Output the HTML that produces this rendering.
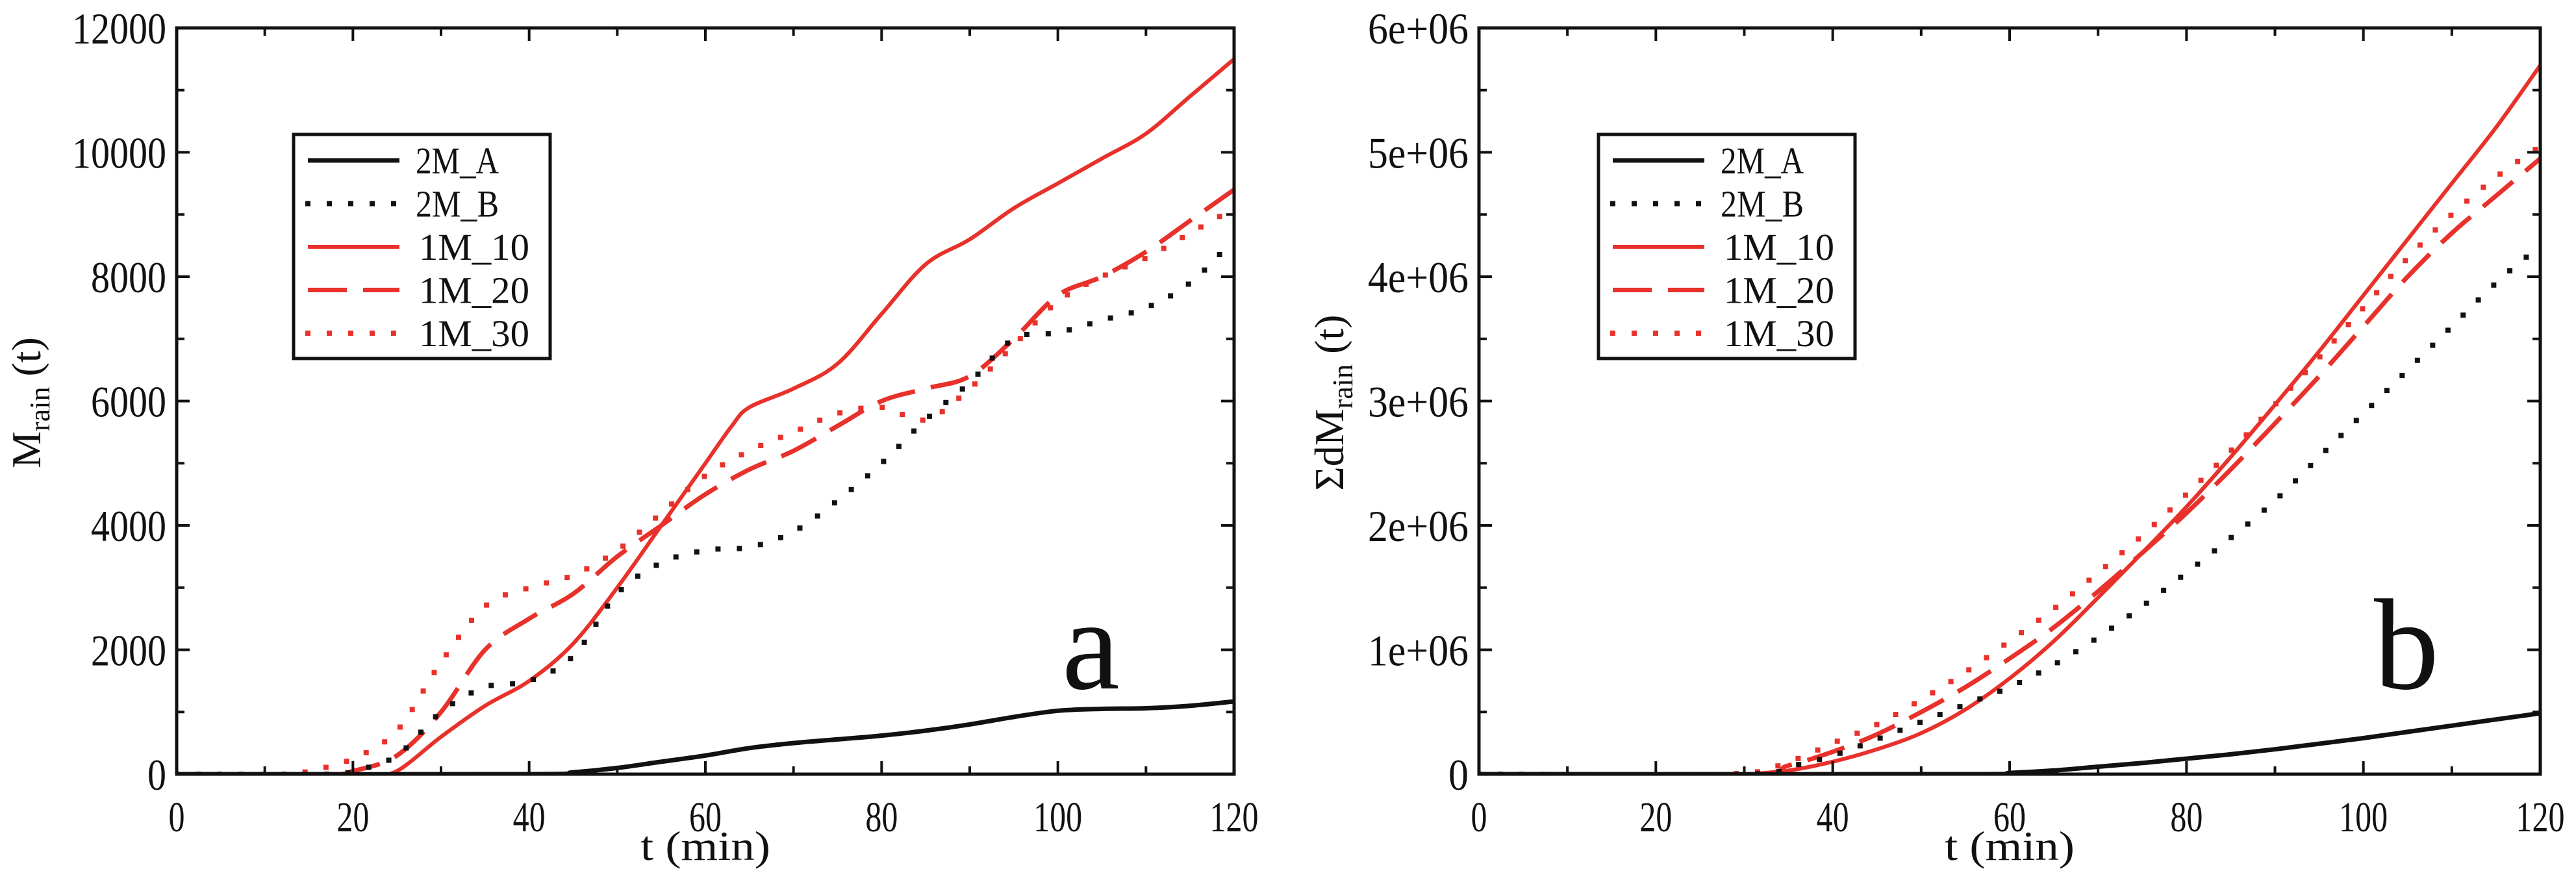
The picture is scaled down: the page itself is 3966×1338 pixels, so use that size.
<!DOCTYPE html>
<html><head><meta charset="utf-8"><style>
html,body{margin:0;padding:0;background:#fff;}
svg{display:block;}
text{font-family:"Liberation Serif",serif;fill:#111;}
</style></head><body>
<svg id="fig" width="3966" height="1338" viewBox="0 0 3966 1338" xmlns="http://www.w3.org/2000/svg"></svg>
<script>
const tA=[0,40,45,50,55,60,65,70,75,80,85,90,95,100,105,110,115,120];
const a2MA=[0,0,30,100,200,300,420,500,560,620,700,800,920,1020,1050,1060,1100,1170];
const tB=[0,17,20,25,30,35,40,45,50,55,60,65,70,75,80,85,90,95,100,105,110,115,120];
const a2MB=[0,0,50,300,1000,1400,1500,1900,2900,3400,3600,3650,3900,4400,5000,5700,6300,7000,7100,7300,7500,7900,8600];
const tC=[0,20,22,25,30,35,40,45,50,55,60,63,65,70,75,80,85,90,95,100,105,110,115,120];
const a1M10=[0,0,0,50,600,1100,1500,2100,3000,4000,5000,5600,5900,6200,6600,7400,8200,8600,9100,9500,9900,10300,10900,11500];
const tD=[0,17,20,25,30,35,40,45,50,55,60,65,70,75,80,85,90,95,100,105,110,115,120];
const a1M20=[0,0,50,300,1000,2000,2500,2900,3500,4000,4500,4900,5200,5600,6000,6200,6400,7000,7700,8000,8400,8900,9400];
const tE=[0,12,15,20,25,30,35,40,45,50,55,60,65,70,75,80,85,90,95,100,105,110,115,120];
const a1M30=[0,0,50,250,700,1800,2700,3000,3200,3600,4200,4800,5200,5500,5800,5900,5700,6200,6900,7600,8000,8300,8700,9100];

const tR=[0,30,35,40,45,50,55,60,65,70,75,80,85,90,95,100,105,110,115,120];
const b1M10=[0,0,30e3,100e3,200e3,330e3,520e3,770e3,1.07e6,1.42e6,1.78e6,2.15e6,2.55e6,2.97e6,3.4e6,3.85e6,4.3e6,4.75e6,5.2e6,5.7e6];
const b1M20=[0,0,70e3,180e3,320e3,500e3,700e3,930e3,1.18e6,1.47e6,1.78e6,2.1e6,2.45e6,2.82e6,3.2e6,3.6e6,4.0e6,4.35e6,4.65e6,4.95e6];
const tR30=[0,28,35,40,45,50,55,60,65,70,75,80,85,90,95,100,105,110,115,120];
const b1M30=[0,0,100e3,250e3,400e3,600e3,820e3,1.07e6,1.33e6,1.62e6,1.92e6,2.25e6,2.6e6,2.97e6,3.35e6,3.75e6,4.15e6,4.5e6,4.8e6,5.05e6];
const b2MB=[0,0,60e3,150e3,280e3,420e3,560e3,700e3,880e3,1.1e6,1.35e6,1.62e6,1.9e6,2.2e6,2.55e6,2.9e6,3.25e6,3.6e6,3.95e6,4.25e6];
const tRA=[0,55,60,65,70,75,80,85,90,95,100,105,110,115,120];
const b2MA=[0,0,10e3,30e3,60e3,90e3,125e3,160e3,200e3,245e3,290e3,340e3,390e3,440e3,490e3];

const xTicks=[0,20,40,60,80,100,120];
const yTicksA=["0","2000","4000","6000","8000","10000","12000"];
const yTicksB=["0","1e+06","2e+06","3e+06","4e+06","5e+06","6e+06"];
const legendLabels=["2M_A","2M_B","1M_10","1M_20","1M_30"];

const NS="http://www.w3.org/2000/svg";
const svg=document.getElementById('fig');
function mk(tag,at,parent){const e=document.createElementNS(NS,tag);for(const k in at)e.setAttribute(k,at[k]);(parent||svg).appendChild(e);return e;}

const styles=[
 {stroke:"#111",w:7,dash:null},
 {stroke:"#111",w:8,dash:"0 33",cap:"square"},
 {stroke:"#e8312b",w:6,dash:null},
 {stroke:"#e8312b",w:7,dash:"60 25"},
 {stroke:"#e8312b",w:8,dash:"0 33",cap:"square"}
];

function smooth(pts){
  let d="M"+pts[0][0].toFixed(1)+","+pts[0][1].toFixed(1);
  for(let i=0;i<pts.length-1;i++){
    const p0=pts[i-1]||pts[i],p1=pts[i],p2=pts[i+1],p3=pts[i+2]||p2;
    const c1=[p1[0]+(p2[0]-p0[0])/6,p1[1]+(p2[1]-p0[1])/6];
    const c2=[p2[0]-(p3[0]-p1[0])/6,p2[1]-(p3[1]-p1[1])/6];
    d+=" C"+c1[0].toFixed(1)+","+c1[1].toFixed(1)+" "+c2[0].toFixed(1)+","+c2[1].toFixed(1)+" "+p2[0].toFixed(1)+","+p2[1].toFixed(1);
  }
  return d;
}

function panel(cfg){
  const g=mk('g',{});
  
  
  const L=cfg.L,R=cfg.R,T=43,B=1192;
  const sx=t=>L+(t/120)*(R-L);
  const sy=v=>B-(v/cfg.ymax)*(B-T);
  const clip=mk('clipPath',{id:'c'+cfg.id},g);
  mk('rect',{x:L,y:T,width:R-L,height:B-T},clip);
  const order=[4,3,2,1,0];
  order.forEach(i=>{
    const s=cfg.series[i],st=styles[i];
    const pts=s.t.map((t,k)=>[sx(t),sy(Math.max(0,s.v[k]))]);
    const p=mk('path',{d:smooth(pts),fill:"none",stroke:st.stroke,"stroke-width":st.w,"stroke-linecap":st.cap||"butt","clip-path":"url(#c"+cfg.id+")"},g);
    if(st.dash)p.setAttribute('stroke-dasharray',st.dash);
    
    
  });
  const fr=mk('rect',{x:L,y:T,width:R-L,height:B-T,fill:"none",stroke:"#111","stroke-width":5},g);
  
  
  for(let t=0;t<=120;t+=10){
    const len=(t%20===0)?20:12,x=sx(t);
    mk('line',{x1:x,y1:B,x2:x,y2:B-len,stroke:"#111","stroke-width":4},g);
    mk('line',{x1:x,y1:T,x2:x,y2:T+len,stroke:"#111","stroke-width":4},g);
  }
  xTicks.forEach(t=>{
    const s=String(t);
    const tx=mk('text',{x:sx(t),y:B+88,"font-size":66,"text-anchor":"middle",textLength:s.length*25,lengthAdjust:"spacingAndGlyphs"},g);
    tx.textContent=s;
    
    
  });
  const step=cfg.ymax/12;
  for(let k=0;k<=12;k++){
    const len=(k%2===0)?20:12,y=sy(k*step);
    mk('line',{x1:L,y1:y,x2:L+len,y2:y,stroke:"#111","stroke-width":4},g);
    mk('line',{x1:R,y1:y,x2:R-len,y2:y,stroke:"#111","stroke-width":4},g);
  }
  cfg.yLabels.forEach((s,k)=>{
    const tx=mk('text',{x:L-16,y:sy(k*step*2)+24,"font-size":68,"text-anchor":"end",textLength:s.length*(cfg.id==='b'?31:29),lengthAdjust:"spacingAndGlyphs"},g);
    tx.textContent=s;
    
    
  });
  const xt=mk('text',{x:(L+R)/2,y:1324,"font-size":64,"text-anchor":"middle",textLength:200,lengthAdjust:"spacingAndGlyphs"},g);
  xt.textContent="t (min)";
  
  
  const yt=mk('text',{transform:"translate("+(cfg.yx)+",620) rotate(-90)","font-size":64,"text-anchor":"middle"},g);
  yt.innerHTML=cfg.ytitle;
  
  
  const pl=mk('text',{x:cfg.letterX,y:1060,"font-size":200},g);
  pl.textContent=cfg.letter;
  
  
  const lg=mk('g',{},g);
  
  
  const lx=cfg.legX;
  mk('rect',{x:lx,y:207,width:395,height:345,fill:"#fff",stroke:"#111","stroke-width":5},lg);
  legendLabels.forEach((lab,i)=>{
    const y=247+i*66.5,st=styles[i];
    const ln=mk('line',{x1:lx+22,y1:y,x2:lx+163,y2:y,stroke:st.stroke,"stroke-width":st.w,"stroke-linecap":st.cap||"butt"},lg);
    if(st.dash)ln.setAttribute('stroke-dasharray',st.dash);
    const tx=mk('text',{x:lx+(i<2?188:193),y:y+20,"font-size":58,textLength:lab.length*(i<2?32:34),lengthAdjust:"spacingAndGlyphs"},lg);
    tx.textContent=lab;
    
    
  });
}

panel({id:'a',name:'panel-a',L:272,R:1900,ymax:12000,yLabels:yTicksA,yx:62,letter:'a',letterX:1635,legX:452,
  ytitle:'M<tspan font-size="44" dy="14">rain</tspan><tspan dy="-14"> (t)</tspan>',
  series:[{t:tA,v:a2MA},{t:tB,v:a2MB},{t:tC,v:a1M10},{t:tD,v:a1M20},{t:tE,v:a1M30}]});
panel({id:'b',name:'panel-b',L:2277,R:3911,ymax:6e6,yLabels:yTicksB,yx:2068,letter:'b',letterX:3655,legX:2461,
  ytitle:'ΣdM<tspan font-size="44" dy="14">rain</tspan><tspan dy="-14"> (t)</tspan>',
  series:[{t:tRA,v:b2MA},{t:tR,v:b2MB},{t:tR,v:b1M10},{t:tR,v:b1M20},{t:tR30,v:b1M30}]});
</script>
</body></html>
